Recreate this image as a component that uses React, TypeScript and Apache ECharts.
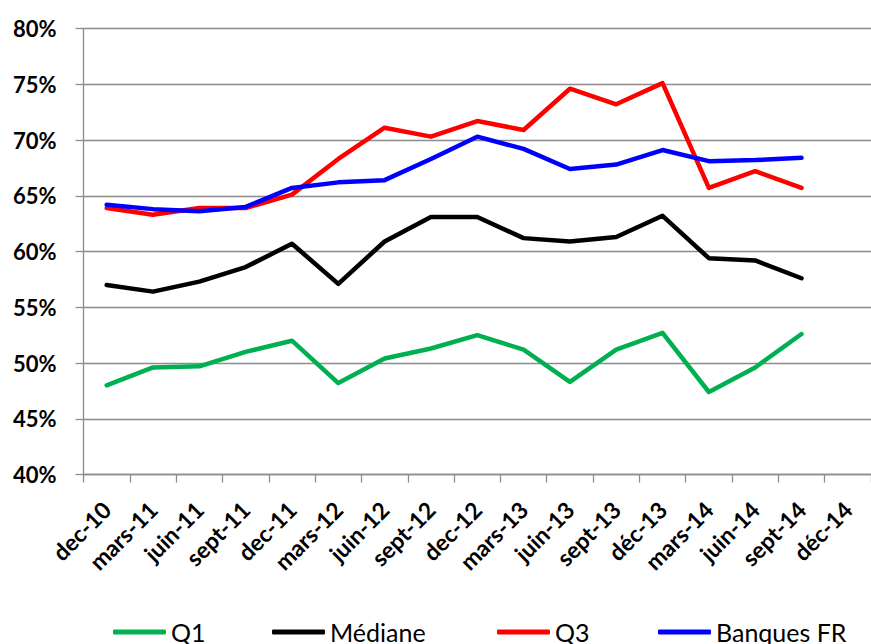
import React, { useEffect, useRef } from "react";
import * as echarts from "echarts";

// Quarter-end dates shown on the category axis
const categories = [
  "dec-10", "mars-11", "juin-11", "sept-11", "dec-11", "mars-12", "juin-12", "sept-12",
  "dec-12", "mars-13", "juin-13", "sept-13", "déc-13", "mars-14", "juin-14", "sept-14", "déc-14",
];

// Ratios in percent
const q1 = [48.0, 49.6, 49.7, 51.0, 52.0, 48.2, 50.4, 51.3, 52.5, 51.2, 48.3, 51.2, 52.7, 47.4, 49.6, 52.6];
const mediane = [57.0, 56.4, 57.3, 58.6, 60.7, 57.1, 60.9, 63.1, 63.1, 61.2, 60.9, 61.3, 63.2, 59.4, 59.2, 57.6];
const q3 = [63.9, 63.3, 63.9, 63.9, 65.1, 68.3, 71.1, 70.3, 71.7, 70.9, 74.6, 73.2, 75.1, 65.7, 67.2, 65.7];
const banquesFR = [64.2, 63.8, 63.6, 64.0, 65.7, 66.2, 66.4, 68.3, 70.3, 69.2, 67.4, 67.8, 69.1, 68.1, 68.2, 68.4];

const yMin = 40;
const yMax = 80;
const yStep = 5;

const seriesDefs = [
  { name: "Q1", data: q1, color: "#00B050" },
  { name: "Médiane", data: mediane, color: "#000000" },
  { name: "Q3", data: q3, color: "#FF0000" },
  { name: "Banques FR", data: banquesFR, color: "#0000FF" },
];

const legendLefts = [113, 272, 497, 658];

const FONT = "Lato, 'Open Sans', sans-serif";
const GRID_COLOR = "#8c8c8c";

export default function App() {
  const ref = useRef<HTMLDivElement>(null);

  useEffect(() => {
    if (!ref.current) return;
    const chart = echarts.init(ref.current, undefined, { renderer: "svg" });
    chart.setOption({
      animation: false,
      backgroundColor: "#ffffff",
      textStyle: { fontFamily: FONT },
      grid: { left: 83.5, top: 28.5, right: -12, bottom: 644 - 474.5, containLabel: false },
      xAxis: {
        type: "category",
        data: categories,
        boundaryGap: true,
        axisLine: { show: true, lineStyle: { color: GRID_COLOR, width: 1.3 } },
        axisTick: { show: true, length: 8, interval: 0, lineStyle: { color: GRID_COLOR, width: 1.3 } },
        axisLabel: {
          interval: 0,
          rotate: 45,
          margin: 31,
          color: "#000",
          fontWeight: "bold",
          fontSize: 23,
          fontFamily: FONT,
        },
        splitLine: { show: false },
      },
      yAxis: {
        type: "value",
        min: yMin,
        max: yMax,
        interval: yStep,
        axisLine: { show: true, lineStyle: { color: GRID_COLOR, width: 1.3 } },
        axisTick: { show: true, length: 8, lineStyle: { color: GRID_COLOR, width: 1.3 } },
        axisLabel: {
          margin: 27,
          color: "#000",
          fontWeight: "bold",
          fontSize: 22,
          fontFamily: FONT,
          formatter: (v: number) => `${v}%`,
        },
        splitLine: { show: true, lineStyle: { color: GRID_COLOR, width: 1.3 } },
      },
      legend: seriesDefs.map((s, i) => ({
        data: [s.name],
        left: legendLefts[i],
        top: 619,
        itemWidth: 53,
        itemHeight: 5,
        icon: "roundRect",
        itemGap: 0,
        padding: 0,
        textStyle: { fontSize: 25, color: "#000", fontFamily: FONT, lineHeight: 26, padding: [0, 0, 0, 0] },
      })),
      series: seriesDefs.map((s) => ({
        name: s.name,
        type: "line",
        data: s.data,
        showSymbol: false,
        symbol: "none",
        color: s.color,
        lineStyle: { color: s.color, width: 4.5, cap: "round", join: "round" },
        itemStyle: { color: s.color },
      })),
    });
    return () => chart.dispose();
  }, []);

  return (
    <div
      ref={ref}
      style={{ position: "fixed", left: 0, top: 0, width: 871, height: 644, background: "#fff" }}
    />
  );
}
